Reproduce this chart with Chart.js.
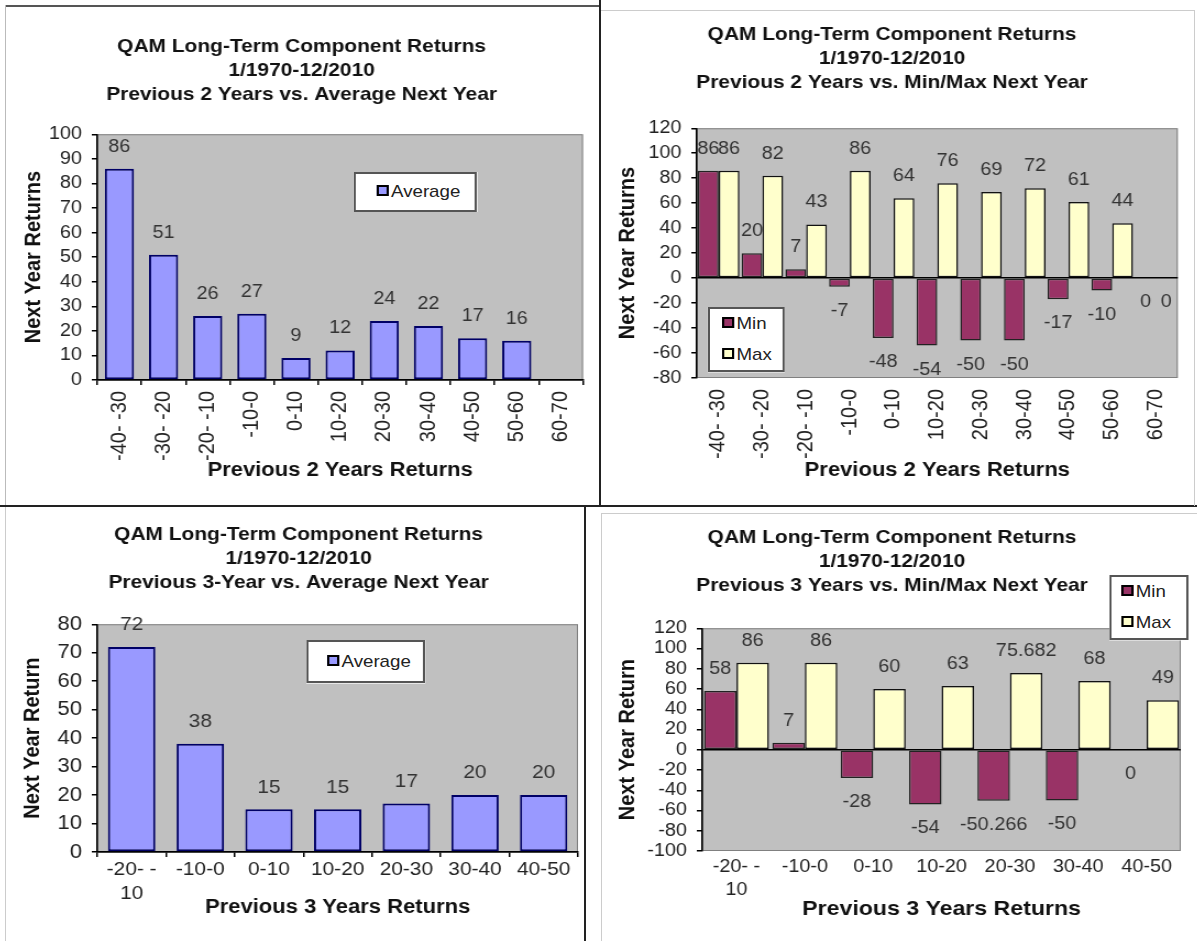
<!DOCTYPE html>
<html>
<head>
<meta charset="utf-8">
<title>QAM Long-Term Component Returns</title>
<script src="https://cdn.jsdelivr.net/npm/chart.js@4.4.1/dist/chart.umd.min.js"></script>
<style>
  body { margin: 0; background: #fff; }
  #page { position: relative; width: 1197px; height: 941px; overflow: hidden; }
  /* the old screenshot is stretched a bit sideways, so each panel is too */
  .panel { position: absolute; transform: scaleX(1.1); transform-origin: 0 0; }
  .line { position: absolute; }
  .legend { position: absolute; box-sizing: border-box; background: #fff; border: 2px solid #555;
            font: 17px "Liberation Sans", Arial, sans-serif; color: #222;
            display: flex; flex-direction: column; justify-content: space-around; }
  .legend .item { white-space: nowrap; line-height: 20px; }
  .legend .swatch { display: inline-block; width: 7px; height: 7px; border: 2px solid #000;
                    margin-right: 2px; vertical-align: 1px; }
</style>
</head>
<body>
<div id="page">
  <!-- frames around the four pasted charts -->
  <div class="line" style="left:5px;top:5px;width:596px;height:2px;background:#555"></div>
  <div class="line" style="left:5px;top:5px;width:1px;height:501px;background:#bbb"></div>
  <div class="line" style="left:599px;top:0;width:2px;height:507px;background:#222"></div>
  <div class="line" style="left:0;top:505px;width:1197px;height:2px;background:#222"></div>
  <div class="line" style="left:601px;top:10px;width:594px;height:1px;background:#ccc"></div>
  <div class="line" style="left:1194px;top:10px;width:1px;height:496px;background:#ccc"></div>
  <div class="line" style="left:584px;top:506px;width:2px;height:435px;background:#222"></div>
  <div class="line" style="left:5px;top:507px;width:1px;height:434px;background:#ccc"></div>
  <div class="line" style="left:601px;top:513px;width:596px;height:1px;background:#ccc"></div>
  <div class="line" style="left:601px;top:513px;width:1px;height:428px;background:#ccc"></div>

  <div class="panel" style="left:6px;top:6px;width:540px;height:500px">
    <canvas id="avg2"></canvas>
    <div class="legend" id="avg2Legend" style="left:316px;top:166px;width:112px;height:40px;padding-left:19px"></div>
  </div>
  <div class="panel" style="left:600px;top:6px;width:543px;height:500px">
    <canvas id="minmax2"></canvas>
    <div class="legend" id="minmax2Legend" style="left:98px;top:301px;width:70px;height:65px;padding-left:11px"></div>
  </div>
  <div class="panel" style="left:6px;top:506px;width:526px;height:435px">
    <canvas id="avg3"></canvas>
    <div class="legend" id="avg3Legend" style="left:273px;top:134px;width:108px;height:43px;padding-left:17px"></div>
  </div>
  <div class="panel" style="left:600px;top:506px;width:543px;height:435px">
    <canvas id="minmax3"></canvas>
    <div class="legend" id="minmax3Legend" style="left:463px;top:69px;width:72px;height:65px;padding-left:9px"></div>
  </div>
</div>

<script>
Chart.defaults.font.family = '"Liberation Sans", Arial, sans-serif';
Chart.defaults.color = '#222';
Chart.defaults.animation = false;

// ---- data ----
var titleStart = ['QAM Long-Term Component Returns', '1/1970-12/2010'];

var twoYearRanges = ['-40- -30', '-30- -20', '-20- -10', '-10-0', '0-10', '10-20', '20-30', '30-40', '40-50', '50-60', '60-70'];
var twoYearAverage = [86, 51, 26, 27, 9, 12, 24, 22, 17, 16, null];
var twoYearMin = [86, 20, 7, -7, -48, -54, -50, -50, -17, -10, 0];
var twoYearMax = [86, 82, 43, 86, 64, 76, 69, 72, 61, 44, 0];

var threeYearRanges = [['-20- -', '10'], '-10-0', '0-10', '10-20', '20-30', '30-40', '40-50'];
var threeYearAverage = [72, 38, 15, 15, 17, 20, 20];
var threeYearMin = [58, 7, -28, -54, -50.266, -50, 0];
var threeYearMax = [86, 86, 60, 63, 75.682, 68, 49];

// y axis tick labels
var avg2Ticks = [0, 10, 20, 30, 40, 50, 60, 70, 80, 90, 100];
var minmax2Ticks = [-80, -60, -40, -20, 0, 20, 40, 60, 80, 100, 120];
var avg3Ticks = [0, 10, 20, 30, 40, 50, 60, 70, 80];
var minmax3Ticks = [-100, -80, -60, -40, -20, 0, 20, 40, 60, 80, 100, 120];

var avgColor = '#9999ff';
var avgBorder = '#000066';
var minColor = '#993366';
var maxColor = '#ffffcc';

// grey excel plot area
var plotBg = {
  id: 'plotBg',
  beforeDraw: function (chart) {
    var a = chart.chartArea;
    var ctx = chart.ctx;
    ctx.save();
    ctx.fillStyle = '#c0c0c0';
    ctx.fillRect(a.left, a.top, a.right - a.left, a.bottom - a.top);
    ctx.strokeStyle = '#808080';
    ctx.lineWidth = 1;
    ctx.strokeRect(a.left + 0.5, a.top + 0.5, a.right - a.left - 1, a.bottom - a.top - 1);
    ctx.restore();
  }
};

// numbers above (or under) each bar
var valueLabels = {
  id: 'valueLabels',
  afterDatasetsDraw: function (chart, args, opts) {
    var ctx = chart.ctx;
    ctx.save();
    ctx.font = opts.size + 'px "Liberation Sans", Arial, sans-serif';
    ctx.fillStyle = '#333';
    ctx.textAlign = 'center';
    ctx.textBaseline = 'middle';
    chart.data.datasets.forEach(function (ds, i) {
      chart.getDatasetMeta(i).data.forEach(function (bar, j) {
        var v = ds.data[j];
        if (v === null) return;
        var y = v > 0 ? bar.y - 22 : bar.y + 24;
        ctx.fillText(String(v), bar.x, y);
      });
    });
    ctx.restore();
  }
};

function htmlLegend(chart, boxId) {
  var box = document.getElementById(boxId);
  chart.data.datasets.forEach(function (ds) {
    var row = document.createElement('div');
    row.className = 'item';
    var sw = document.createElement('span');
    sw.className = 'swatch';
    sw.style.background = ds.backgroundColor;
    row.appendChild(sw);
    row.appendChild(document.createTextNode(ds.label));
    box.appendChild(row);
  });
}

function makeChart(id, s) {
  return new Chart(document.getElementById(id), {
    type: 'bar',
    data: { labels: s.labels, datasets: s.datasets },
    options: {
      responsive: true,
      maintainAspectRatio: false,
      layout: { padding: { left: s.padLeft, right: s.padRight, top: 0, bottom: 0 } },
      plugins: {
        legend: { display: false },
        tooltip: { enabled: false },
        valueLabels: { size: s.fontSize },
        title: {
          display: true,
          text: titleStart.concat([s.title]),
          color: '#111',
          font: { size: 19, weight: 'bold', lineHeight: 1.25 },
          padding: { top: s.titleTop, bottom: s.titleBottom }
        }
      },
      scales: {
        x: {
          border: { display: s.xBorder, color: '#000', width: 1.5 },
          grid: { drawOnChartArea: false, drawTicks: s.xBorder, tickLength: 5, tickColor: '#000', lineWidth: 1.5 },
          ticks: {
            autoSkip: false, maxRotation: s.rotate, minRotation: s.rotate, padding: s.xPad,
            color: '#222', font: { size: s.xFontSize, lineHeight: 1.3 }
          },
          title: {
            display: true, text: s.xTitle, color: '#111',
            font: { size: s.xTitleSize, weight: 'bold' },
            padding: { top: 0, bottom: s.xTitleBottom }
          },
          afterFit: function (axis) { axis.height = s.xHeight; }
        },
        y: {
          min: s.ticks[0],
          max: s.ticks[s.ticks.length - 1],
          border: { color: '#000', width: 1.5 },
          grid: {
            color: function (c) { return c.tick && c.tick.value === 0 ? '#000' : 'rgba(0,0,0,0)'; },
            lineWidth: 1.5, tickLength: 5, tickColor: '#000'
          },
          ticks: {
            stepSize: s.ticks[1] - s.ticks[0], autoSkip: false, padding: 9,
            color: '#222', font: { size: s.yFontSize }
          },
          title: {
            display: true, text: s.yTitle, color: '#111',
            font: { size: 20, weight: 'bold' },
            padding: { top: s.yTitleTop, bottom: 0 }
          },
          afterFit: function (axis) { axis.width = s.yWidth; }
        }
      }
    },
    plugins: [plotBg, valueLabels]
  });
}

var avg2 = makeChart('avg2', {
  labels: twoYearRanges,
  datasets: [{ label: 'Average', data: twoYearAverage, backgroundColor: avgColor, borderColor: avgBorder,
               borderWidth: 2, borderSkipped: false, barPercentage: 0.66, categoryPercentage: 1 }],
  title: 'Previous 2 Years vs. Average Next Year',
  yTitle: 'Next Year Returns', xTitle: 'Previous 2 Years Returns',
  ticks: avg2Ticks, fontSize: 18, yFontSize: 18, xFontSize: 20, xTitleSize: 20,
  rotate: 90, xPad: 6, xBorder: true,
  padLeft: 13, padRight: 15.5, titleTop: 29, titleBottom: 28,
  yWidth: 70, yTitleTop: 0, xHeight: 126, xTitleBottom: 24
});
htmlLegend(avg2, 'avg2Legend');

var minmax2 = makeChart('minmax2', {
  labels: twoYearRanges,
  datasets: [
    { label: 'Min', data: twoYearMin, backgroundColor: minColor, borderColor: '#222',
      borderWidth: 1.5, borderSkipped: false, barPercentage: 1, categoryPercentage: 0.95 },
    { label: 'Max', data: twoYearMax, backgroundColor: maxColor, borderColor: '#111',
      borderWidth: 1.5, borderSkipped: false, barPercentage: 1, categoryPercentage: 0.95 }
  ],
  title: 'Previous 2 Years vs. Min/Max Next Year',
  yTitle: 'Next Year Returns', xTitle: 'Previous 2 Years Returns',
  ticks: minmax2Ticks, fontSize: 18, yFontSize: 18, xFontSize: 20, xTitleSize: 20,
  rotate: 90, xPad: 11, xBorder: false,
  padLeft: 2, padRight: 14, titleTop: 17, titleBottom: 34,
  yWidth: 86, yTitleTop: 11, xHeight: 128, xTitleBottom: 24
});
htmlLegend(minmax2, 'minmax2Legend');

var avg3 = makeChart('avg3', {
  labels: threeYearRanges,
  datasets: [{ label: 'Average', data: threeYearAverage, backgroundColor: avgColor, borderColor: avgBorder,
               borderWidth: 2, borderSkipped: false, barPercentage: 0.69, categoryPercentage: 1 }],
  title: 'Previous 3-Year vs. Average Next Year',
  yTitle: 'Next Year Return', xTitle: 'Previous 3 Years Returns',
  ticks: avg3Ticks, fontSize: 19, yFontSize: 20, xFontSize: 19, xTitleSize: 20,
  rotate: 0, xPad: 0, xBorder: true,
  padLeft: 12, padRight: 6, titleTop: 17, titleBottom: 30,
  yWidth: 71, yTitleTop: 0, xHeight: 89, xTitleBottom: 22
});
htmlLegend(avg3, 'avg3Legend');

var minmax3 = makeChart('minmax3', {
  labels: threeYearRanges,
  datasets: [
    { label: 'Min', data: threeYearMin, backgroundColor: minColor, borderColor: '#222',
      borderWidth: 1.5, borderSkipped: false, barPercentage: 1, categoryPercentage: 0.95 },
    { label: 'Max', data: threeYearMax, backgroundColor: maxColor, borderColor: '#111',
      borderWidth: 1.5, borderSkipped: false, barPercentage: 1, categoryPercentage: 0.95 }
  ],
  title: 'Previous 3 Years vs. Min/Max Next Year',
  yTitle: 'Next Year Return', xTitle: 'Previous 3 Years Returns',
  ticks: minmax3Ticks, fontSize: 18, yFontSize: 18, xFontSize: 18, xTitleSize: 21,
  rotate: 0, xPad: 4, xBorder: false,
  padLeft: 3, padRight: 15, titleTop: 20, titleBottom: 31,
  yWidth: 90, yTitleTop: 10, xHeight: 90, xTitleBottom: 19
});
htmlLegend(minmax3, 'minmax3Legend');
</script>
</body>
</html>
